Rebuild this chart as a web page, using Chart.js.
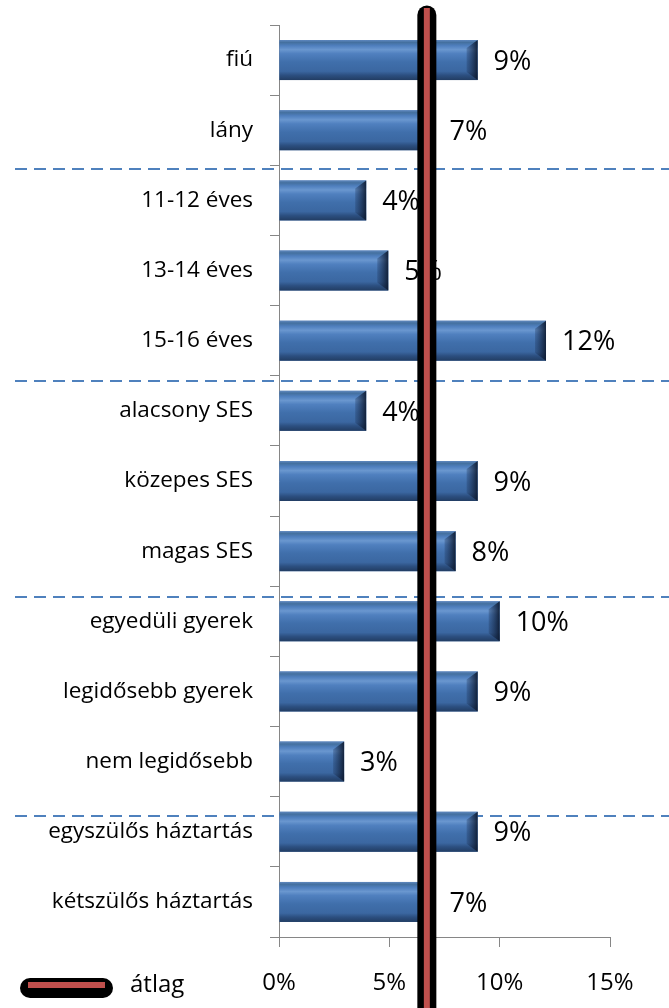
<!DOCTYPE html>
<html>
<head>
<meta charset="utf-8">
<script src="https://cdn.jsdelivr.net/npm/chart.js@4.4.1/dist/chart.umd.min.js"></script>
<style>
  body { margin: 0; background: #fff; }
  #wrap { width: 669px; height: 1008px; position: relative; }
</style>
</head>
<body>
<div id="wrap"><canvas id="myChart"></canvas></div>
<script>
// kategoriak es ertekek (%)
const categories = ['fiú', 'lány', '11-12 éves', '13-14 éves', '15-16 éves', 'alacsony SES', 'közepes SES', 'magas SES', 'egyedüli gyerek', 'legidősebb gyerek', 'nem legidősebb', 'egyszülős háztartás', 'kétszülős háztartás'];
const values = [9.0, 7.0, 3.95, 4.95, 12.1, 3.95, 9.0, 8.0, 10.0, 9.0, 2.95, 9.0, 7.0];
const average = 6.7;
const averageLabel = 'átlag';
// a szaggatott elvalasztok helye (kategoria index egysegben)
const separators = [1.55, 4.57, 7.66, 10.77];
const xTicks = [0, 5, 10, 15];

const FONT = "'Open Sans', sans-serif";

// a savok 3D hatasa, a feliratok, elvalasztok
const decorPlugin = {
  id: 'decor',
  beforeDatasetsDraw(chart) {
    const ctx = chart.ctx;
    const yScale = chart.scales.y;
    // szaggatott elvalaszto vonalak
    ctx.save();
    ctx.strokeStyle = '#4f81bd';
    ctx.lineWidth = 2;
    ctx.setLineDash([12, 7]);
    separators.forEach(function (s) {
      const y = Math.round(yScale.getPixelForValue(s));
      ctx.beginPath();
      ctx.moveTo(15, y);
      ctx.lineTo(669, y);
      ctx.stroke();
    });
    ctx.restore();
  },
  afterDatasetsDraw(chart) {
    const ctx = chart.ctx;
    const meta = chart.getDatasetMeta(0);

    meta.data.forEach(function (bar) {
      const x0 = bar.base, x1 = bar.x;
      const top = bar.y - bar.height / 2, h = bar.height;
      const g = ctx.createLinearGradient(0, top, 0, top + h);
      g.addColorStop(0, '#5f88bf');
      g.addColorStop(0.06, '#44709f');
      g.addColorStop(0.14, '#4f7fbe');
      g.addColorStop(0.24, '#6a97cf');
      g.addColorStop(0.34, '#5080bf');
      g.addColorStop(0.55, '#406fab');
      g.addColorStop(0.78, '#3b67a1');
      g.addColorStop(0.88, '#2c4f80');
      g.addColorStop(1, '#223d63');
      ctx.save();
      ctx.fillStyle = g;
      ctx.fillRect(x0, top, x1 - x0, h);
      // jobb oldali el
      const r = ctx.createLinearGradient(x1 - 11, 0, x1, 0);
      r.addColorStop(0, 'rgba(25,45,80,0.25)');
      r.addColorStop(1, 'rgba(12,24,45,0.9)');
      ctx.fillStyle = r;
      ctx.beginPath();
      ctx.moveTo(x1 - 11, top + 8);
      ctx.lineTo(x1, top);
      ctx.lineTo(x1, top + h);
      ctx.lineTo(x1 - 11, top + h - 8);
      ctx.closePath();
      ctx.fill();
      ctx.restore();
    });

    // ertek feliratok
    ctx.save();
    ctx.fillStyle = '#000';
    ctx.font = '27px ' + FONT;
    ctx.textBaseline = 'middle';
    ctx.textAlign = 'left';
    meta.data.forEach(function (bar, i) {
      ctx.fillText(Math.round(values[i]) + '%', bar.x + 16, bar.y + 2);
    });
    ctx.restore();
  },
  afterDraw(chart) {
    const ctx = chart.ctx;
    const x = chart.scales.x.getPixelForValue(average);
    ctx.save();
    // atlag vonal
    ctx.lineCap = 'round';
    ctx.strokeStyle = '#000';
    ctx.lineWidth = 19;
    ctx.beginPath();
    ctx.moveTo(x, 15);
    ctx.lineTo(x, 1030);
    ctx.stroke();
    ctx.strokeStyle = '#c0504d';
    ctx.lineWidth = 6;
    ctx.lineCap = 'butt';
    ctx.beginPath();
    ctx.moveTo(x, 8);
    ctx.lineTo(x, 1030);
    ctx.stroke();

    // jelmagyarazat
    ctx.lineCap = 'round';
    ctx.strokeStyle = '#000';
    ctx.lineWidth = 20;
    ctx.beginPath();
    ctx.moveTo(30, 988);
    ctx.lineTo(103, 988);
    ctx.stroke();
    ctx.lineCap = 'butt';
    ctx.strokeStyle = '#c0504d';
    ctx.lineWidth = 6;
    ctx.beginPath();
    ctx.moveTo(28, 985);
    ctx.lineTo(105, 985);
    ctx.stroke();
    ctx.fillStyle = '#000';
    ctx.font = '24px ' + FONT;
    ctx.textBaseline = 'middle';
    ctx.fillText(averageLabel, 130, 985);
    ctx.restore();
  }
};

const ctx = document.getElementById('myChart').getContext('2d');
const chart = new Chart(ctx, {
  type: 'bar',
  data: {
    labels: categories,
    datasets: [{
      label: 'arány',
      data: values,
      backgroundColor: '#4573b0',
      borderWidth: 0,
      barPercentage: 0.57,
      categoryPercentage: 1
    }]
  },
  options: {
    indexAxis: 'y',
    responsive: true,
    maintainAspectRatio: false,
    animation: false,
    layout: { padding: { top: 25, right: 59, left: 0, bottom: 0 } },
    plugins: {
      legend: { display: false },
      tooltip: { enabled: false }
    },
    scales: {
      x: {
        min: 0,
        max: 15,
        afterBuildTicks(scale) { scale.ticks = xTicks.map(v => ({ value: v })); },
        afterFit(scale) { scale.height = 71; scale.paddingLeft = 0; scale.paddingRight = 0; },
        ticks: {
          callback: v => v + '%',
          color: '#000',
          font: { family: FONT, size: 24 },
          padding: 22,
          maxRotation: 0
        },
        grid: { drawOnChartArea: false, drawTicks: true, tickLength: 10, color: '#868686' },
        border: { display: true, color: '#868686', width: 1 }
      },
      y: {
        afterFit(scale) { scale.width = 279; scale.paddingTop = 0; scale.paddingBottom = 0; },
        ticks: {
          color: '#000',
          font: { family: FONT, size: 22.5 },
          padding: 17
        },
        grid: { drawOnChartArea: false, drawTicks: true, tickLength: 9, offset: true, color: '#868686' },
        border: { display: true, color: '#868686', width: 1 }
      }
    }
  },
  plugins: [decorPlugin]
});
</script>
</body>
</html>
